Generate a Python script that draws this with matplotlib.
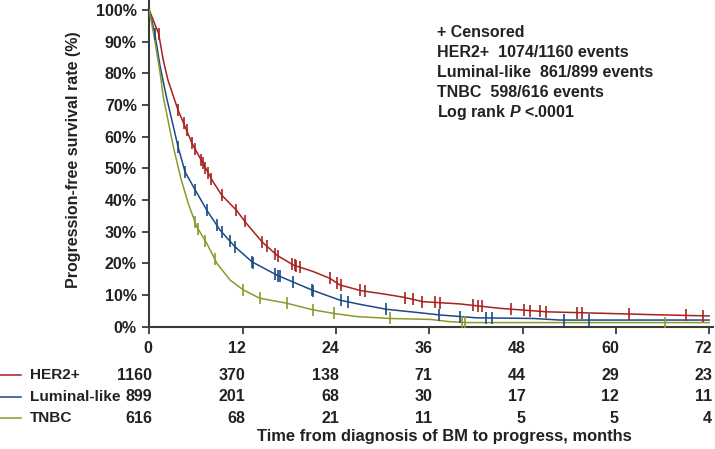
import numpy as np
import matplotlib
matplotlib.use("Agg")
import matplotlib.pyplot as plt
from matplotlib.lines import Line2D
from matplotlib.ticker import FuncFormatter
import matplotlib.transforms as mtransforms

plt.rcParams['font.family'] = ['Liberation Sans', 'DejaVu Sans']
plt.rcParams['font.weight'] = 'bold'
plt.rcParams['mathtext.fontset'] = 'custom'
plt.rcParams['mathtext.it'] = 'Liberation Sans:italic:bold'

FS = 11.5
INK = '#222222'

# curves (months, % progression-free)
her2_t = [0, 1.2, 1.8, 2.4, 3.7, 4.6, 5.5, 6.9, 8.2, 9.3, 11.2, 12.5, 14.5, 16.4, 18.5, 21.1,
          23.2, 24.5, 27.2, 30.5, 32.7, 35.2, 39.9, 42.5, 45.1, 51.1, 58.8, 64.7, 72]
her2_s = [100, 92.6, 84.2, 77.9, 68.4, 63.2, 57.9, 51.6, 45.8, 41.6, 36.8, 32.6, 26.8, 22.6, 19.5, 17.4,
          15.3, 13.2, 11.4, 10.2, 9.3, 7.9, 7.2, 6.5, 5.8, 4.7, 4.2, 3.8, 3.4]

lum_t = [0, 0.4, 0.7, 1.4, 2.2, 3.1, 3.7, 4.6, 5.9, 7.4, 9.1, 11.0, 13.2, 16.4, 18.7, 21.1,
         24.5, 27.0, 30.5, 34.8, 37.4, 42.1, 49.4, 52.8, 72]
lum_s = [100, 96, 92.6, 82.1, 72.6, 63.2, 56.8, 48.9, 43.2, 36.8, 30.5, 25.3, 20.5, 16.3, 13.9, 11.4,
         8.4, 7.1, 5.5, 4.4, 3.7, 2.8, 2.6, 2.1, 2.1]

tnbc_t = [0, 0.7, 1.4, 1.8, 2.4, 3.1, 4.0, 5.0, 6.1, 7.4, 8.7, 10.4, 12.1, 14.2, 17.7, 21.1,
          23.7, 26.7, 30.9, 36.1, 38.6, 40.8, 72]
tnbc_s = [100, 90.5, 80, 72.6, 65.3, 56.8, 47.4, 39.0, 31.6, 26.3, 20.0, 14.7, 11.6, 9.0, 7.4, 5.3,
          4.2, 3.2, 2.6, 2.3, 1.6, 1.3, 1.3]

# censoring times
her2_cens = [1.2, 3.7, 4.4, 4.8, 5.5, 5.9, 6.7, 6.9, 7.2, 7.6, 8.0, 9.3, 11.2, 12.3, 14.5, 15.1,
             16.2, 16.6, 18.3, 18.7, 18.9, 19.4, 23.2, 24.1, 24.7, 27.1, 27.7, 32.9, 33.9, 35.1,
             36.7, 37.4, 41.6, 42.3, 42.8, 46.5, 48.2, 49.0, 50.2, 51.0, 55.0, 55.6, 61.7, 69.0, 71.2]
lum_cens = [0.7, 3.7, 4.6, 5.9, 7.4, 8.7, 9.3, 10.4, 11.0, 13.2, 13.4, 16.2, 16.6, 16.8, 18.5,
            20.9, 21.1, 24.7, 25.6, 30.5, 37.3, 40.0, 43.3, 44.1, 53.3, 56.6]
tnbc_cens = [5.9, 6.3, 7.2, 8.4, 12.1, 14.2, 17.7, 21.1, 23.7, 31.0, 40.2, 40.6, 66.3]

groups = ['HER2+', 'Luminal-like', 'TNBC']
colors = ['#a8201f', '#1b4a86', '#8c9a2b']
risk_times = [0, 12, 24, 36, 48, 60, 72]
her2_risk = [1160, 370, 138, 71, 44, 29, 23]
lum_risk = [899, 201, 68, 30, 17, 12, 11]
tnbc_risk = [616, 68, 21, 11, 5, 5, 4]

notes = ['+ Censored', 'HER2+  1074/1160 events', 'Luminal-like  861/899 events',
         'TNBC  598/616 events', r'Log rank $\mathit{P}$ <.0001']

fig = plt.figure(figsize=(7.15, 4.49), dpi=100)
ax = fig.add_axes([0.2088, 0.2724, 0.7884, 0.7276])

curves = [(her2_t, her2_s, her2_cens), (lum_t, lum_s, lum_cens), (tnbc_t, tnbc_s, tnbc_cens)]
for (t, s, c), col in zip(curves, colors):
    ax.plot(t, s, color=col, lw=1.1, zorder=3)
    cy = np.interp(c, t, s)
    ax.plot(c, cy, ls='none', marker='|', ms=9, mew=1.2, color=col, zorder=4)

ax.set_xlim(0, 72.5)
ax.set_ylim(0, 103.2)
ax.set_xticks(risk_times)
ax.set_xticklabels([])
ax.set_yticks(range(0, 101, 10))
ax.yaxis.set_major_formatter(FuncFormatter(lambda v, p: '%d%%' % v))
for s in ['top', 'right']:
    ax.spines[s].set_visible(False)
for s in ['left', 'bottom']:
    ax.spines[s].set_color('#3a3a3a')
    ax.spines[s].set_linewidth(1.5)
ax.tick_params(axis='both', direction='out', length=5, width=1.3, color='#3a3a3a',
               labelsize=FS, pad=4)
for lab in ax.get_yticklabels():
    lab.set_fontweight('bold')
    lab.set_color(INK)

ax.set_ylabel('Progression-free survival rate (%)', fontsize=FS, fontweight='bold',
              color=INK, labelpad=10)
ax.yaxis.set_label_coords(-0.122, 0.51)

# tick labels and number-at-risk table, right aligned just past each tick
tr = mtransforms.blended_transform_factory(ax.transData, fig.transFigure)
ys = [0.1648, 0.1165, 0.0684]
for tt in risk_times:
    ax.text(tt + 0.4, 0.224, str(tt), transform=tr, ha='right', va='center',
            fontsize=FS, fontweight='bold', color=INK)
for row, y in zip([her2_risk, lum_risk, tnbc_risk], ys):
    for tt, n in zip(risk_times, row):
        ax.text(tt + 0.4, y, str(n), transform=tr, ha='right', va='center',
                fontsize=FS, fontweight='bold', color=INK)

for g, col, y in zip(groups, colors, ys):
    fig.add_artist(Line2D([0.0, 0.029], [y, y], color=col, lw=1.1, transform=fig.transFigure))
    fig.text(0.042, y, g, ha='left', va='center', fontsize=11.1, fontweight='bold', color=INK)

fig.text(0.622, 0.0274, 'Time from diagnosis of BM to progress, months', ha='center', va='center',
         fontsize=11.9, fontweight='bold', color=INK)

for i, line in enumerate(notes):
    fig.text(0.611, (449 - 32.3 - 20 * i) / 449, line, ha='left', va='center',
             fontsize=FS, fontweight='bold', color=INK)

fig.savefig('out.png', dpi=100)
